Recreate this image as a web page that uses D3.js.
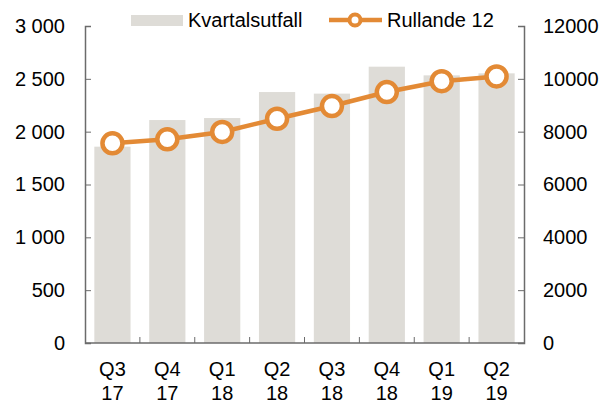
<!DOCTYPE html>
<html>
<head>
<meta charset="utf-8">
<script src="https://cdn.jsdelivr.net/npm/d3@7"></script>
<style>
  body { margin: 0; background: #fff; }
  text { font-family: "Liberation Sans", Arial, sans-serif; fill: #000; }
</style>
</head>
<body>
<div id="chart"></div>
<script>
// Data
var quarters = ["Q3", "Q4", "Q1", "Q2", "Q3", "Q4", "Q1", "Q2"];
var years = ["17", "17", "18", "18", "18", "18", "19", "19"];
var kvartalsutfall = [1858, 2110, 2129, 2375, 2360, 2615, 2533, 2552];
var rullande12 = [7560, 7710, 7990, 8490, 8970, 9500, 9910, 10090];
var leftTicks = [0, 500, 1000, 1500, 2000, 2500, 3000];
var rightTicks = [0, 2000, 4000, 6000, 8000, 10000, 12000];

var width = 604, height = 401;
var margin = {top: 26, left: 85, right: 80, bottom: 58};
var innerW = width - margin.left - margin.right,
    innerH = height - margin.top - margin.bottom;

var fontSize = 20;
var barColor = "#dedcd7";
var lineColor = "#e38a35";
var axisColor = "#6b6b6b";

var svg = d3.select("#chart")
    .append("svg")
    .attr("width", width)
    .attr("height", height);

var g = svg.append("g")
    .attr("transform", "translate(" + margin.left + "," + margin.top + ")");

var idx = d3.range(quarters.length);

var x = d3.scaleBand()
    .domain(idx)
    .range([0, innerW])
    .paddingInner(0.34)
    .paddingOuter(0.17);

var xBand = d3.scaleBand()
    .domain(idx)
    .range([0, innerW]);

var yLeft = d3.scaleLinear().domain([0, 3000]).range([innerH, 0]);
var yRight = d3.scaleLinear().domain([0, 12000]).range([innerH, 0]);

// Bars
g.append("g").selectAll("rect")
    .data(kvartalsutfall)
    .join("rect")
    .attr("x", function (d, i) { return x(i); })
    .attr("y", function (d) { return yLeft(d); })
    .attr("width", x.bandwidth())
    .attr("height", function (d) { return innerH - yLeft(d); })
    .attr("fill", barColor);

// Axes
var fmt = function (d) { return d3.format(",")(d).replace(/,/g, " "); };

var leftAxis = g.append("g")
    .call(d3.axisLeft(yLeft).tickValues(leftTicks).tickSize(-6).tickPadding(20).tickFormat(fmt));

var rightAxis = g.append("g")
    .attr("transform", "translate(" + innerW + ",0)")
    .call(d3.axisRight(yRight).tickValues(rightTicks).tickSize(-6).tickPadding(19).tickFormat(d3.format("d")));

// bottom axis: ticks between bands, pointing up
var bottom = g.append("g")
    .attr("transform", "translate(0," + innerH + ")");
bottom.append("line")
    .attr("x1", 0).attr("x2", innerW)
    .attr("stroke", axisColor).attr("stroke-width", 1.5);
bottom.selectAll(".sep")
    .data(idx.slice(1))
    .join("line")
    .attr("x1", function (i) { return xBand(i); })
    .attr("x2", function (i) { return xBand(i); })
    .attr("y1", 0).attr("y2", -6)
    .attr("stroke", axisColor);

var labels = bottom.selectAll(".lbl")
    .data(idx)
    .join("text")
    .attr("text-anchor", "middle")
    .attr("font-size", fontSize);
labels.append("tspan")
    .attr("x", function (i) { return xBand(i) + xBand.bandwidth() / 2; })
    .attr("y", 33)
    .text(function (i) { return quarters[i]; });
labels.append("tspan")
    .attr("x", function (i) { return xBand(i) + xBand.bandwidth() / 2; })
    .attr("y", 57)
    .text(function (i) { return years[i]; });

[leftAxis, rightAxis].forEach(function (a) {
    a.select(".domain").attr("stroke", axisColor).attr("stroke-width", 1.5);
    a.selectAll(".tick line").attr("stroke", axisColor);
    a.selectAll(".tick text").attr("font-size", fontSize)
        .attr("font-family", "Liberation Sans, Arial, sans-serif").attr("fill", "#000");
});

// Line
var line = d3.line()
    .x(function (d, i) { return xBand(i) + xBand.bandwidth() / 2; })
    .y(function (d) { return yRight(d); });

g.append("path")
    .datum(rullande12)
    .attr("d", line)
    .attr("fill", "none")
    .attr("stroke", lineColor)
    .attr("stroke-width", 4.5);

g.append("g").selectAll("circle")
    .data(rullande12)
    .join("circle")
    .attr("cx", function (d, i) { return xBand(i) + xBand.bandwidth() / 2; })
    .attr("cy", function (d) { return yRight(d); })
    .attr("r", 10)
    .attr("fill", "#fff")
    .attr("stroke", lineColor)
    .attr("stroke-width", 4.5);

// Legend
var legend = svg.append("g");
legend.append("rect")
    .attr("x", 131).attr("y", 15)
    .attr("width", 52).attr("height", 11)
    .attr("fill", barColor);
legend.append("text")
    .attr("x", 188).attr("y", 27)
    .attr("font-size", fontSize)
    .text("Kvartalsutfall");
legend.append("line")
    .attr("x1", 329).attr("x2", 382)
    .attr("y1", 20).attr("y2", 20)
    .attr("stroke", lineColor).attr("stroke-width", 4.5);
legend.append("circle")
    .attr("cx", 355).attr("cy", 20).attr("r", 5.5)
    .attr("fill", "#fff")
    .attr("stroke", lineColor).attr("stroke-width", 4);
legend.append("text")
    .attr("x", 387).attr("y", 27)
    .attr("font-size", fontSize)
    .text("Rullande 12");
</script>
</body>
</html>
